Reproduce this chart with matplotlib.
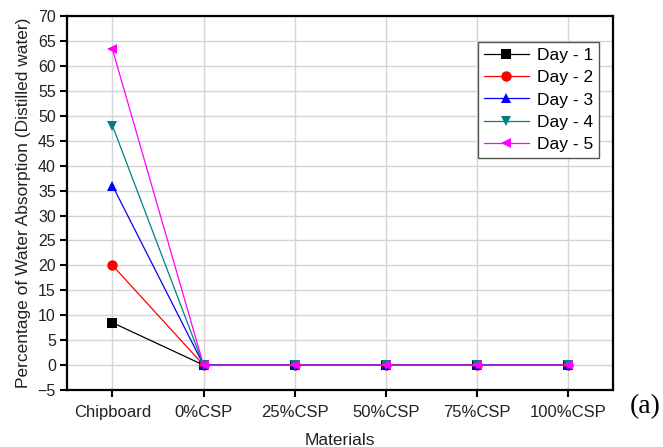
import matplotlib.pyplot as plt

plt.rcParams["font.family"] = ["Liberation Sans", "DejaVu Sans"]

materials = ["Chipboard", "0%CSP", "25%CSP", "50%CSP", "75%CSP", "100%CSP"]
day1 = [8.5, 0, 0, 0, 0, 0]
day2 = [20.0, 0, 0, 0, 0, 0]
day3 = [36.0, 0, 0, 0, 0, 0]
day4 = [48.0, 0, 0, 0, 0, 0]
day5 = [63.3, 0, 0, 0, 0, 0]

SERIES = [
    ("Day - 1", day1, "black", "s"),
    ("Day - 2", day2, "red", "o"),
    ("Day - 3", day3, "blue", "^"),
    ("Day - 4", day4, "#008080", "v"),
    ("Day - 5", day5, "#ff00ff", "<"),
]

fig = plt.figure(figsize=(6.63, 4.47), dpi=100)
ax = fig.add_axes([0.101, 0.1275, 0.824, 0.8365])

x = list(range(len(materials)))
for name, vals, color, mk in SERIES:
    ax.plot(x, vals, color=color, linewidth=0.9, marker=mk, markersize=7.5,
            markeredgewidth=0, label=name, zorder=3)

ax.set_xlim(-0.5, 5.5)
ax.set_ylim(-5, 70)
ax.set_yticks(range(-5, 71, 5))
ax.set_xticks(x)
ax.set_xticklabels(materials)
ax.grid(True, color="#d4d4d4", linewidth=1, zorder=0)
ax.set_axisbelow(True)

for s in ax.spines.values():
    s.set_linewidth(1.6)
ax.tick_params(direction="out", length=5, width=1.5, colors="black", labelcolor="#222222")
ax.tick_params(axis="y", labelsize=11.5, pad=3)
ax.tick_params(axis="x", labelsize=12, pad=6)

ax.set_xlabel("Materials", fontsize=12.5, labelpad=9, color="#222222")
ax.set_ylabel("Percentage of Water Absorption (Distilled water)", fontsize=12.5,
              labelpad=5, color="#222222")

leg = ax.legend(loc="upper left", bbox_to_anchor=(0.753, 0.93), fontsize=12.5,
                fancybox=False, framealpha=1, edgecolor="#555555",
                handlelength=2.6, handletextpad=0.5, borderaxespad=0,
                labelspacing=0.42, borderpad=0.3)
leg.get_frame().set_linewidth(1.0)
leg.set_zorder(5)

fig.text(0.973, 0.0895, "(a)", family="Liberation Serif", fontsize=20,
         ha="center", va="center")

plt.savefig("out.png", dpi=100)
